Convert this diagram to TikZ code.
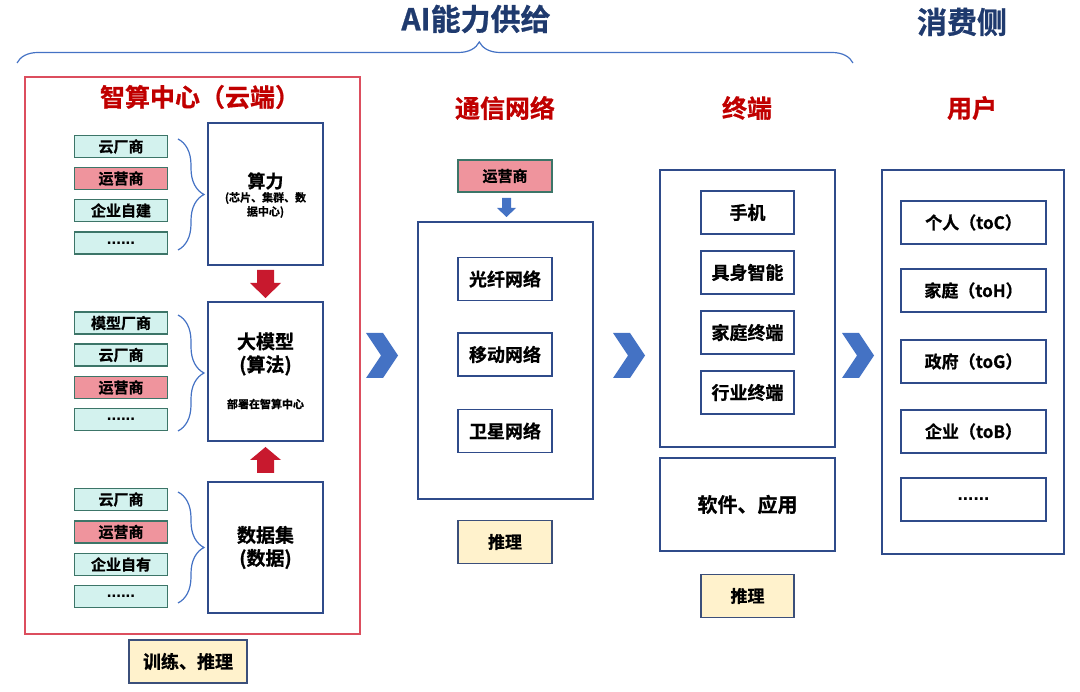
\documentclass[tikz,border=0pt]{standalone}
\usepackage{fontspec}
\setmainfont{Noto Sans CJK SC}[BoldFont={Noto Sans CJK SC Bold}, BoldFeatures={FakeBold=0.8}]
\newfontfamily\latinf{Liberation Sans}
\usetikzlibrary{decorations.pathreplacing}
\definecolor{navy}{HTML}{1F3A6E}
\definecolor{redt}{HTML}{C00000}
\definecolor{redb}{HTML}{DC4E5E}
\definecolor{boxb}{HTML}{2F4B8A}
\definecolor{tealb}{HTML}{3C7568}
\definecolor{tealf}{HTML}{D3F2EE}
\definecolor{pinkf}{HTML}{EF949D}
\definecolor{yf}{HTML}{FFF2CC}
\definecolor{yb}{HTML}{3B4F7A}
\definecolor{redar}{HTML}{C8192E}
\definecolor{blue1}{HTML}{4472C4}
\tikzset{
  tbox/.style={draw=tealb, fill=tealf, line width=1.3pt, minimum width=93pt, minimum height=22pt, inner sep=0pt, font=\fontsize{15}{18}\selectfont\bfseries},
  pbox/.style={tbox, fill=pinkf},
  wbox/.style={draw=boxb, line width=1.4pt, fill=white, inner sep=0pt},
  item/.style={wbox, minimum width=93pt, minimum height=43pt, font=\fontsize{18}{22}\selectfont\bfseries},
  uitem/.style={item, minimum width=145pt, font=\fontsize{17}{20}\selectfont\bfseries},
  ybox/.style={draw=yb, fill=yf, line width=1.4pt, inner sep=0pt, minimum width=93pt, minimum height=43pt, font=\fontsize{17}{20}\selectfont\bfseries},
  coltitle/.style={font=\fontsize{25}{30}\selectfont\bfseries, text=redt, inner sep=0pt},
  toptitle/.style={font=\fontsize{30}{36}\selectfont\bfseries, text=navy, inner sep=0pt},
  bracestyle/.style={draw=blue1, line width=1.2pt, decorate},
  chev/.style={fill=blue1},
  dots/.style={font=\latinf\fontsize{17}{18}\selectfont\bfseries},
  udots/.style={font=\latinf\fontsize{19}{20}\selectfont\bfseries},
}
\begin{document}
\begin{tikzpicture}[x=1pt,y=-1pt]
\useasboundingbox (0,0) rectangle (1080,692);
% top titles
\node[toptitle] (ttl) at (476,19) {AI能力供给};
\node[toptitle] (cons) at (962,22) {消费侧};
\coordinate (tb1) at (17,63);
\coordinate (tb2) at (853,63);
\draw[bracestyle, decoration={brace, amplitude=21pt, aspect=0.553}] (tb1) -- (tb2);

% ===== compute center =====
\node[draw=redb, line width=1.5pt, minimum width=335pt, minimum height=557pt, inner sep=0pt] (dc) at (192.5,355.5) {};
\node[coltitle] (dct) at (200,97) {智算中心（云端）};

% group 1
\node[tbox] (a1) at (121,146.5) {云厂商};
\node[pbox] (a2) at (121,178.5) {运营商};
\node[tbox] (a3) at (121,210.5) {企业自建};
\node[tbox, dots] (a4) at (121,243) {......};
\coordinate (ba1) at (178,139);
\coordinate (ba2) at (178,250);
\draw[bracestyle, decoration={brace, amplitude=26pt}] (ba1) -- (ba2);
\node[wbox, minimum width=115pt, minimum height=142pt] (comp) at (265.5,194) {};
\node[inner sep=0pt, font=\fontsize{18}{22}\selectfont\bfseries] (compt) at (265.5,181) {算力};
\node[inner sep=0pt, align=center, font=\fontsize{11}{14}\selectfont\bfseries] (comps) at (265.5,205) {(芯片、集群、数\\据中心)};

% group 2
\node[tbox] (b1) at (121,323) {模型厂商};
\node[tbox] (b2) at (121,355) {云厂商};
\node[pbox] (b3) at (121,387.5) {运营商};
\node[tbox, dots] (b4) at (121,419.5) {......};
\coordinate (bb1) at (178,315);
\coordinate (bb2) at (178,431);
\draw[bracestyle, decoration={brace, amplitude=26pt}] (bb1) -- (bb2);
\node[wbox, minimum width=115pt, minimum height=139pt] (model) at (265.5,371.5) {};
\node[inner sep=0pt, align=center, font=\fontsize{19}{23}\selectfont\bfseries] (modelt) at (265.5,354) {大模型\\(算法)};
\node[inner sep=0pt, font=\fontsize{11}{14}\selectfont\bfseries] (models) at (265.5,404) {部署在智算中心};

% group 3
\node[tbox] (c1) at (121,499.5) {云厂商};
\node[pbox] (c2) at (121,532) {运营商};
\node[tbox] (c3) at (121,564.5) {企业自有};
\node[tbox, dots] (c4) at (121,596.5) {......};
\coordinate (bc1) at (178,492);
\coordinate (bc2) at (178,603);
\draw[bracestyle, decoration={brace, amplitude=26pt}] (bc1) -- (bc2);
\node[wbox, minimum width=115pt, minimum height=131pt] (data) at (265.5,547.5) {};
\node[inner sep=0pt, align=center, font=\fontsize{19}{23}\selectfont\bfseries] (datat) at (265.5,547.5) {数据集\\(数据)};

% red block arrows
\fill[redar] (257,270) -- (274,270) -- (274,283) -- (281,283) -- (265.5,298) -- (250,283) -- (257,283) -- cycle;
\fill[redar] (265.5,447) -- (281,460) -- (274,460) -- (274,473) -- (257,473) -- (257,460) -- (250,460) -- cycle;

\node[ybox, minimum width=118pt, font=\fontsize{18}{22}\selectfont\bfseries] (train) at (188,661.5) {训练、推理};

% ===== network =====
\node[coltitle] (nett) at (505,108) {通信网络};
\node[pbox, minimum width=94pt, minimum height=32pt] (op) at (505,176) {运营商};
\fill[blue1] (502,198) -- (511,198) -- (511,208) -- (516,208) -- (506.5,217) -- (497,208) -- (502,208) -- cycle;
\node[wbox, minimum width=175pt, minimum height=277pt] (net) at (505.5,360.5) {};
\node[item, minimum width=94pt] (n1) at (505,279) {光纤网络};
\node[item, minimum width=94pt] (n2) at (505,354.5) {移动网络};
\node[item, minimum width=94pt] (n3) at (505,431) {卫星网络};
\node[ybox, minimum width=94pt] (inf1) at (505,542) {推理};

% ===== terminal =====
\node[coltitle] (termt) at (747,108) {终端};
\node[wbox, minimum width=175pt, minimum height=277pt] (term) at (747.5,308.5) {};
\node[item] (t1) at (747.5,212.5) {手机};
\node[item] (t2) at (747.5,272.5) {具身智能};
\node[item] (t3) at (747.5,332.5) {家庭终端};
\node[item] (t4) at (747.5,392.5) {行业终端};
\node[wbox, minimum width=175pt, minimum height=93pt, font=\fontsize{20}{24}\selectfont\bfseries] (soft) at (747.5,504.5) {软件、应用};
\node[ybox] (inf2) at (747.5,596) {推理};

% ===== users =====
\node[coltitle] (usert) at (972,108) {用户};
\node[wbox, minimum width=182pt, minimum height=384pt] (user) at (973,362) {};
\node[uitem] (u1) at (973.5,222.5) {个人（toC）};
\node[uitem] (u2) at (973.5,290.5) {家庭（toH）};
\node[uitem] (u3) at (973.5,361.5) {政府（toG）};
\node[uitem] (u4) at (973.5,431.5) {企业（toB）};
\node[uitem, udots] (u5) at (973.5,499.5) {......};

% chevrons
\foreach \dx in {0,247,476}{
  \fill[chev, shift={(\dx,0)}] (366,333) -- (383,333) -- (398,355.5) -- (383,378) -- (366,378) -- (381,355.5) -- cycle;
}
\end{tikzpicture}
\end{document}
